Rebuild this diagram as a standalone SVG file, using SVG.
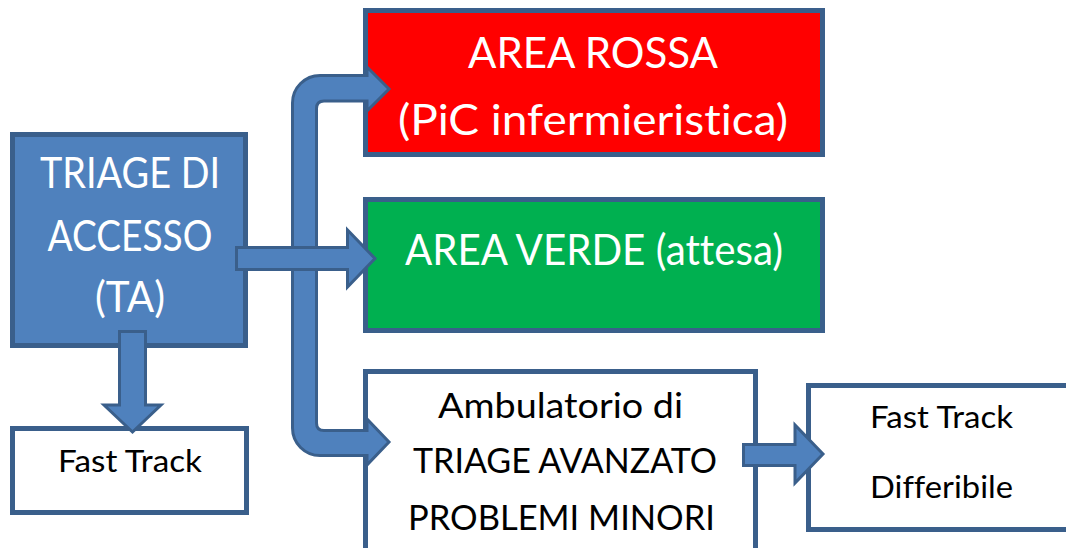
<svg xmlns="http://www.w3.org/2000/svg" width="1066" height="548" viewBox="0 0 1066 548">
<style>
  .box { stroke: #3A5F8B; stroke-width: 5; }
  .blue { fill: #4F81BD; }
  .red { fill: #FF0000; }
  .green { fill: #00B050; }
  .white { fill: #FFFFFF; }
  .arrow { fill: #4F81BD; stroke: #3A5F8B; stroke-width: 3; stroke-linejoin: miter; }
  text { font-family: "Lato", "Liberation Sans", Arial, sans-serif; font-variant-ligatures: none; }
  .lt { fill: #FFFFFF; }
  .dk { fill: #000000; }
</style>
<rect width="1066" height="548" fill="#FFFFFF"/>
<g id="nodes">
  <g id="triage-accesso">
    <rect class="box blue" x="12.5" y="134.5" width="233" height="211"/>
    <text class="lt" font-size="42" text-anchor="middle" x="130" y="188" textLength="180" lengthAdjust="spacingAndGlyphs">TRIAGE DI</text>
    <text class="lt" font-size="42" text-anchor="middle" x="130" y="251" textLength="165" lengthAdjust="spacingAndGlyphs">ACCESSO</text>
    <text class="lt" font-size="42" text-anchor="middle" x="130" y="312" textLength="70" lengthAdjust="spacingAndGlyphs">(TA)</text>
  </g>
  <g id="area-rossa">
    <rect class="box red" x="365.5" y="10.5" width="457" height="144"/>
    <text class="lt" font-size="43" text-anchor="middle" x="593" y="68" textLength="250" lengthAdjust="spacingAndGlyphs">AREA ROSSA</text>
    <text class="lt" font-size="43" text-anchor="middle" x="593" y="135" textLength="390" lengthAdjust="spacingAndGlyphs">(PiC infermieristica)</text>
  </g>
  <g id="area-verde">
    <rect class="box green" x="365.5" y="199.5" width="457" height="131"/>
    <text class="lt" font-size="43" text-anchor="middle" x="594" y="265" textLength="378" lengthAdjust="spacingAndGlyphs">AREA VERDE (attesa)</text>
  </g>
  <g id="fast-track">
    <rect class="box white" x="12.5" y="428.5" width="234" height="84"/>
    <text class="dk" font-size="30" text-anchor="middle" x="130" y="472" textLength="144" lengthAdjust="spacingAndGlyphs">Fast Track</text>
  </g>
  <g id="ambulatorio">
    <rect class="box white" x="365.5" y="371.5" width="390" height="200"/>
    <text class="dk" font-size="35" text-anchor="middle" x="560.5" y="418" textLength="245" lengthAdjust="spacingAndGlyphs">Ambulatorio di</text>
    <text class="dk" font-size="35" text-anchor="middle" x="565" y="473" textLength="304" lengthAdjust="spacingAndGlyphs">TRIAGE AVANZATO</text>
    <text class="dk" font-size="35" text-anchor="middle" x="561.5" y="530" textLength="307" lengthAdjust="spacingAndGlyphs">PROBLEMI MINORI</text>
  </g>
  <g id="fast-track-differibile">
    <rect class="box white" x="808.5" y="385.5" width="300" height="144"/>
    <text class="dk" font-size="30" x="870" y="428" textLength="143" lengthAdjust="spacingAndGlyphs">Fast Track</text>
    <text class="dk" font-size="30" x="870" y="498" textLength="143" lengthAdjust="spacingAndGlyphs">Differibile</text>
  </g>
</g>
<g id="connectors">
  <path class="arrow" d="M367,75.5 V67 L389,89 L367,111 V101 H324 Q316.5,101 316.5,108.5 V423 Q316.5,430.5 324,430.5 H367 V419 L389,442 L367,465 V455.5 H320 A27.5,27.5 0 0 1 292.5,428 V103 A27.5,27.5 0 0 1 320,75.5 Z"/>
  <path class="arrow" d="M236.5,247.5 H347.5 V230 L375,258.5 L347.5,287 V269.5 H236.5 Z"/>
  <path class="arrow" d="M119.5,331.5 H145.5 V405 H161 L132.5,432 L104,405 H119.5 Z"/>
  <path class="arrow" d="M743.5,444.5 H795 V425 L823,454 L795,483 V465.5 H743.5 Z"/>
</g>
</svg>
